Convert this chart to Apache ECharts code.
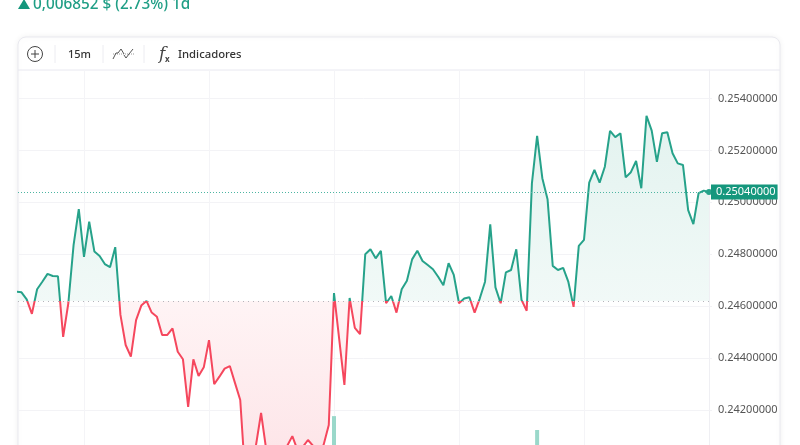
<!DOCTYPE html>
<html>
<head>
<meta charset="utf-8">
<title>Chart</title>
<script src="https://cdn.jsdelivr.net/npm/echarts@6/dist/echarts.min.js"></script>
<style>
  html, body { margin: 0; padding: 0; background: #fff; overflow: hidden; }
  #chart { width: 800px; height: 445px; }
</style>
</head>
<body>
<div id="chart"></div>
<script>
// price every 15 minutes
const price = [
  0.24656, 0.24653, 0.24626, 0.24570, 0.24665, 0.24694, 0.24724, 0.24716, 0.24715, 0.24481,
  0.24612, 0.24835, 0.24974, 0.24790, 0.24925, 0.24810, 0.24793, 0.24762, 0.24750, 0.24827,
  0.24566, 0.24450, 0.24405, 0.24546, 0.24602, 0.24620, 0.24575, 0.24559, 0.24489, 0.24489,
  0.24514, 0.24424, 0.24395, 0.24212, 0.24395, 0.24331, 0.24364, 0.24469, 0.24299, 0.24328,
  0.24359, 0.24369, 0.24303, 0.24238, 0.23930, 0.23930, 0.24061, 0.24188, 0.24045, 0.23968,
  0.23988, 0.24007, 0.24061, 0.24099, 0.24045, 0.24057, 0.24084, 0.24061, 0.24038, 0.24065,
  0.24142, 0.24650, 0.24473, 0.24296, 0.24631, 0.24516, 0.24492, 0.24800, 0.24819, 0.24784,
  0.24813, 0.24611, 0.24639, 0.24575, 0.24665, 0.24698, 0.24780, 0.24813, 0.24774, 0.24758,
  0.24742, 0.24713, 0.24680, 0.24765, 0.24720, 0.24611, 0.24629, 0.24634, 0.24575, 0.24630,
  0.24694, 0.24915, 0.24672, 0.24611, 0.24730, 0.24739, 0.24819, 0.24624, 0.24582, 0.25073,
  0.25256, 0.25093, 0.25012, 0.24755, 0.24739, 0.24747, 0.24693, 0.24597, 0.24832, 0.24855,
  0.25076, 0.25125, 0.25076, 0.25137, 0.25275, 0.25251, 0.25266, 0.25096, 0.25116, 0.25159,
  0.25054, 0.25333, 0.25276, 0.25156, 0.25266, 0.25270, 0.25189, 0.25150, 0.25144, 0.24970,
  0.24916, 0.25035, 0.25045, 0.25040
]
const volumeIndex = [61, 100]
const volumeValues = [77, 40]
const yTicks = [0.242, 0.244, 0.246, 0.248, 0.25, 0.252, 0.254]
const xTicks = [13, 37, 61, 85, 109, 133]
const basePrice = 0.2462
const lastPrice = 0.2504

const green = '#26a28a'
const red = '#f5475d'
const uiFont = '"Noto Sans", sans-serif'

const chart = echarts.init(document.getElementById('chart'), null, { renderer: 'canvas' })
const lastIndex = price.length - 1

// toolbar + card are plain decoration around the plot
const graphic = [
  { type: 'rect', z: -10, shape: { x: 18, y: 37, width: 762, height: 430, r: 8 },
    style: { fill: '#fff', stroke: '#e9e9ef', lineWidth: 1, shadowBlur: 6, shadowColor: 'rgba(0,0,0,0.07)' } },
  { type: 'line', z: -9, shape: { x1: 18, y1: 70, x2: 780, y2: 70 }, style: { stroke: '#e8e8f0', lineWidth: 1 } },
  { type: 'polygon', shape: { points: [[18, 9], [24, -1], [30, 9]] }, style: { fill: '#15977d' } },
  { type: 'text', x: 33, y: -3, style: { text: '0,006852 $ (2.73%) 1d', fill: '#1f9e85', font: '500 15.3px ' + uiFont } },
  { type: 'circle', shape: { cx: 35, cy: 54, r: 7.5 }, style: { fill: 'none', stroke: '#444', lineWidth: 1 } },
  { type: 'line', shape: { x1: 31, y1: 54, x2: 39, y2: 54 }, style: { stroke: '#444', lineWidth: 1 } },
  { type: 'line', shape: { x1: 35, y1: 50, x2: 35, y2: 58 }, style: { stroke: '#444', lineWidth: 1 } },
  { type: 'line', shape: { x1: 55, y1: 45, x2: 55, y2: 63 }, style: { stroke: '#ececf1', lineWidth: 1 } },
  { type: 'text', x: 68, y: 49, style: { text: '15m', fill: '#333', font: '500 11px ' + uiFont } },
  { type: 'line', shape: { x1: 103, y1: 45, x2: 103, y2: 63 }, style: { stroke: '#ececf1', lineWidth: 1 } },
  { type: 'line', shape: { x1: 113, y1: 54, x2: 134, y2: 54 }, style: { stroke: '#999', lineWidth: 1, lineDash: [1, 1] } },
  { type: 'polyline', shape: { points: [[113, 59], [116, 53], [118, 53], [121, 49], [124, 54]] }, style: { fill: 'none', stroke: '#555', lineWidth: 1 } },
  { type: 'polyline', shape: { points: [[124, 55], [126, 58], [129, 54], [133, 49]] }, style: { fill: 'none', stroke: '#555', lineWidth: 1 } },
  { type: 'line', shape: { x1: 144, y1: 45, x2: 144, y2: 63 }, style: { stroke: '#ececf1', lineWidth: 1 } },
  { type: 'text', x: 159, y: 46, style: { text: 'f', fill: '#444', font: 'italic 17px "DejaVu Serif", serif' } },
  { type: 'text', x: 165, y: 56, style: { text: 'x', fill: '#444', font: 'bold 8px ' + uiFont } },
  { type: 'text', x: 178, y: 49, style: { text: 'Indicadores', fill: '#333', font: '500 11.3px ' + uiFont } }
]

const option = {
  animation: false,
  backgroundColor: 'transparent',
  graphic: graphic,
  grid: { left: 18, right: 91, top: 70, bottom: 0 },
  xAxis: {
    type: 'value',
    min: 0.33,
    max: lastIndex,
    axisLine: { show: false },
    axisTick: { show: false, customValues: xTicks },
    axisLabel: { show: false },
    splitLine: { show: true, lineStyle: { color: '#f4f4f7', width: 1 } }
  },
  yAxis: [
    {
      type: 'value',
      position: 'right',
      min: 0.240647,
      max: 0.255098,
      axisLine: { show: true, lineStyle: { color: '#efeff3' } },
      axisTick: { show: true, length: 3, customValues: yTicks, lineStyle: { color: '#f2f2f5' } },
      axisLabel: {
        customValues: yTicks,
        margin: 9,
        color: '#555',
        fontFamily: uiFont,
        fontSize: 11,
        formatter: (v) => v.toFixed(8)
      },
      splitLine: { show: true, lineStyle: { color: '#f3f3f6', width: 1 } }
    },
    { type: 'value', min: 0, max: 1000, show: false }
  ],
  // line changes colour where it crosses the open price
  visualMap: {
    show: false,
    seriesIndex: 0,
    dimension: 1,
    pieces: [
      { gt: 0.2, lte: basePrice, color: red },
      { gt: basePrice, lte: 0.3, color: green }
    ]
  },
  series: [
    {
      type: 'line',
      data: price.map((v, i) => [i, v]),
      showSymbol: false,
      lineStyle: { width: 2 },
      z: 3,
      areaStyle: {
        origin: basePrice,
        opacity: 1,
        color: new echarts.graphic.LinearGradient(0, 70, 0, 445, [
          { offset: 0, color: '#dff1ed' },
          { offset: 0.616, color: '#f1f9f7' },
          { offset: 0.616, color: '#fff4f5' },
          { offset: 1, color: '#fde6e9' }
        ], true)
      },
      markLine: {
        silent: true,
        symbol: 'none',
        animation: false,
        precision: 8,
        data: [
          {
            yAxis: basePrice,
            lineStyle: { color: '#b5b5bb', type: [1, 4], width: 1 },
            label: { show: false }
          },
          {
            yAxis: lastPrice,
            lineStyle: { color: '#4db5a2', type: [1, 2], width: 1 },
            label: {
              show: true,
              position: 'end',
              distance: 2,
              formatter: lastPrice.toFixed(8),
              backgroundColor: '#15977d',
              color: '#fff',
              fontFamily: uiFont,
              fontSize: 11,
              padding: [2, 2, 2, 5]
            }
          }
        ]
      },
      markPoint: {
        silent: true,
        symbol: 'circle',
        symbolSize: 6,
        itemStyle: { color: green },
        label: { show: false },
        data: [{ coord: [lastIndex, lastPrice] }]
      }
    },
    {
      type: 'bar',
      yAxisIndex: 1,
      barWidth: 4,
      itemStyle: { color: '#9ad8ca' },
      data: volumeIndex.map((x, i) => [x, volumeValues[i]]),
      z: 4
    }
  ]
}

chart.setOption(option)
</script>
</body>
</html>
